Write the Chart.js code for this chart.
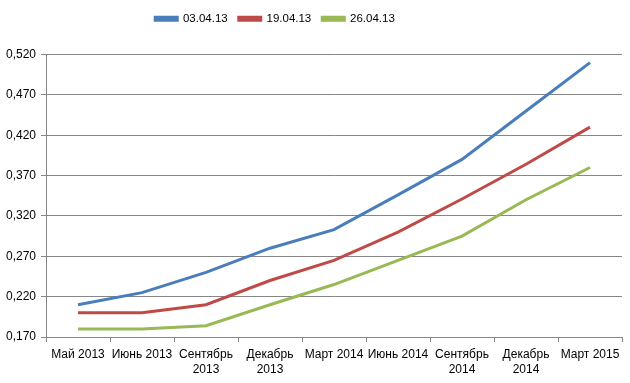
<!DOCTYPE html>
<html>
<head>
<meta charset="utf-8">
<script src="https://cdn.jsdelivr.net/npm/chart.js@4.4.1/dist/chart.umd.min.js"></script>
<style>
  html, body { margin: 0; padding: 0; background: #fff; }
  #wrap { width: 630px; height: 383px; }
</style>
</head>
<body>
<div id="wrap"><canvas id="chart" width="630" height="383"></canvas></div>
<script>
const months = [
  'Май 2013', 'Июнь 2013', ['Сентябрь', '2013'], ['Декабрь', '2013'],
  'Март 2014', 'Июнь 2014', ['Сентябрь', '2014'], ['Декабрь', '2014'], 'Март 2015',
];
const seriesNames = ['03.04.13', '19.04.13', '26.04.13'];
const apr03 = [0.210, 0.225, 0.250, 0.280, 0.303, 0.346, 0.390, 0.450, 0.510];
const apr19 = [0.200, 0.200, 0.210, 0.240, 0.265, 0.300, 0.341, 0.384, 0.430];
const apr26 = [0.180, 0.180, 0.184, 0.210, 0.235, 0.265, 0.295, 0.340, 0.380];
const colors = ['#4A7EBB', '#BE4B48', '#98B954'];

Chart.defaults.font.family = '"Liberation Sans", Arial, sans-serif';
Chart.defaults.font.size = 12;
Chart.defaults.color = '#000';

// excel puts the legend a bit left of center
const shiftLegend = {
  id: 'shiftLegend',
  afterLayout(chart) {
    chart.legend.left -= 36;
    chart.legend.right -= 36;
  }
};

new Chart(document.getElementById('chart'), {
  type: 'line',
  plugins: [shiftLegend],
  data: {
    labels: months,
    datasets: [apr03, apr19, apr26].map((values, i) => ({
      label: seriesNames[i],
      data: values,
      borderColor: colors[i],
      backgroundColor: colors[i],
      borderWidth: 3,
      pointRadius: 0,
      tension: 0,
    })),
  },
  options: {
    responsive: false,
    animation: false,
    layout: { padding: { top: 2, right: 8, left: 0, bottom: 0 } },
    plugins: {
      tooltip: { enabled: false },
      legend: {
        position: 'top',
        labels: {
          boxWidth: 22,
          boxHeight: 3,
          padding: 11,
          font: { size: 11.5 },
        },
      },
      // empty title used as a gap between legend and plot
      title: {
        display: true,
        text: '',
        weight: 500,
        padding: 0,
        font: { size: 20, lineHeight: 1 },
      },
    },
    scales: {
      x: {
        offset: true,
        grid: {
          offset: true,
          drawOnChartArea: false,
          color: '#868686',
          tickLength: 5,
        },
        border: { color: '#868686' },
        ticks: { maxRotation: 0, autoSkip: false, padding: 5, font: { lineHeight: 1.25 } },
        afterFit(s) { s.height = 46; },
      },
      y: {
        min: 0.17,
        max: 0.52,
        grid: { color: '#868686', tickLength: 5 },
        border: { color: '#868686' },
        ticks: {
          stepSize: 0.05,
          padding: 5,
          callback: v => v.toFixed(3).replace('.', ','),
        },
        afterFit(s) { s.width = 46; },
      },
    },
  },
});
</script>
</body>
</html>
